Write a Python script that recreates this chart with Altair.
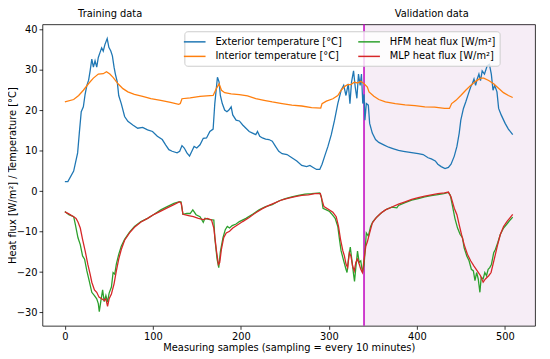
import altair as alt
import pandas as pd

# ---------------- data ----------------
ext_x = [0, 3.4, 10, 14.5, 16.4, 18.6, 21, 23, 25, 27, 28.7, 30.6, 32.4, 34.3, 36.2, 38, 39.9, 41.8, 43.6, 45.5,
         48.1, 50, 52.2, 54, 55.9, 57.4, 59.6, 61.2, 64.1, 67.9, 71.6, 77.2, 82.8, 88.4, 94, 99.6, 105.1, 110.7,
         114.5, 118.2, 121.9, 127.5, 130.5, 133.1, 135.7, 138.7, 141.7, 144.3, 146.9, 149.9, 153.6, 157.3, 161,
         164.8, 168.5, 170.4, 173.4, 175.3, 176.7, 178.9, 181.6, 184.2, 186.4, 189, 190.8, 194.6, 198.3, 202.1,
         205.8, 209.5, 213.3, 217, 218.9, 221.5, 224.5, 228.2, 231.9, 235.7, 239.4, 243.1, 246.9, 252.5, 258,
         263.6, 269.2, 274.8, 278.5, 282.2, 286, 289.7, 292.3, 295.3, 299, 302.8, 306.5, 310.2, 314, 316.9,
         319.5, 322.1, 324, 325.8, 328.1, 330, 331.9, 333.7, 335.6, 337.1, 338.6, 340, 341, 342.6, 344.9, 346.4,
         349.4, 353.1, 356.8, 362.4, 368, 373.6, 379.2, 384.8, 390.4, 396, 401.6, 407.2, 412.8, 416.5, 421,
         423.9, 427.7, 432.1, 435.9, 438.9, 442.6, 445.6, 448.2, 450, 453, 455.6, 458.6, 461.2, 463.1, 465,
         466.8, 468.7, 470.6, 472.4, 474.3, 476.9, 479.9, 482.5, 484.7, 486.6, 488.5, 491.1, 493, 495.9, 500.4,
         504.1, 509]
ext_y = [2.4, 2.4, 5.0, 9.5, 14.4, 19.7, 20.9, 24, 26.2, 27.5, 29.8, 32.7, 30.7, 32.3, 30.7, 33.1, 34.3, 35.5,
         34.7, 36.3, 37.8, 35.6, 34.7, 33.5, 30.7, 29, 27, 23.7, 21.7, 18.5, 17.3, 16.4, 15.6, 15.8, 15.2, 14.8,
         13.6, 12.8, 11.5, 10.3, 9.9, 9.5, 9.9, 11.3, 10.7, 9.5, 8.7, 9.9, 11.1, 10.7, 11.5, 13.1, 13.2, 14.8,
         15.4, 21.7, 28.2, 27, 23.7, 21.7, 20.1, 19.7, 20.1, 20.9, 18.9, 17.6, 17.4, 16.4, 15.6, 14.8, 14.4, 14,
         14.8, 13.6, 13.2, 12.9, 12.8, 12.4, 11.1, 9.9, 9.3, 9.1, 8.3, 7.5, 6.4, 6.1, 6.4, 5.9, 5.4, 5.4, 6.7,
         8.7, 11.1, 14, 17.6, 21.7, 25, 26.2, 23.7, 26.6, 21.7, 27, 29.8, 25.8, 23, 29, 26.2, 29, 21.7, 24,
         17.6, 21.7, 21.3, 16.8, 14.4, 12.8, 12.1, 11.5, 10.9, 10.5, 10.1, 9.9, 9.7, 9.5, 9.3, 9.1, 8.3, 8.0,
         7.5, 6.7, 6.1, 5.6, 5.9, 6.7, 8.7, 11.1, 14.4, 17.6, 20.5, 22.1, 24.1, 25.8, 26.6, 27.8, 26.2, 27.8,
         29, 27.4, 29.8, 29, 31, 31.4, 29, 25, 26.2, 24.6, 20.5, 18.9, 16.8, 15.4, 14]

int_x = [0, 10, 15.7, 21, 26.8, 32.4, 38, 43.6, 47.3, 51.1, 54.8, 60.4, 66, 71.6, 79, 88.4, 97.7, 108.9, 120.1,
         129.4, 131.2, 133.1, 142.4, 153.6, 168.5, 172.2, 175.3, 178, 181.6, 189, 198.3, 207.6, 217, 226.4,
         235.7, 246.9, 258, 269.2, 280.4, 290.8, 292.3, 297.2, 304.6, 310.2, 314, 317.7, 321.4, 325.1, 328.9,
         332.6, 336.3, 340.1, 343.8, 345.7, 351.2, 356.8, 364.3, 375.5, 386.7, 397.9, 409.1, 420.3, 431.5,
         437.1, 439.6, 444.5, 450, 455.6, 461.2, 466.8, 472.4, 476.1, 481.7, 487.3, 492.9, 498.5, 504.1, 509]
int_y = [22.1, 22.7, 23.7, 25, 26.6, 28, 29, 29.1, 29.6, 29, 28.2, 26.6, 25.4, 24.6, 24, 23.5, 22.9, 22.5, 22,
         21.5, 21.7, 22.9, 23.1, 23.5, 23.7, 25.4, 26.6, 25, 24.4, 24.1, 23.9, 23.6, 22.9, 22.5, 22.1, 21.7,
         21.3, 21.1, 20.7, 20.6, 21.7, 22.3, 22.9, 23.7, 25, 25.9, 26.4, 26.4, 27, 26.8, 27.2, 26.6, 25.8, 24.6,
         23.5, 22.7, 22.1, 21.7, 21.4, 21.2, 20.9, 20.8, 20.5, 20.5, 21.7, 22.5, 23.7, 25, 26.2, 27.2, 28, 28,
         27.4, 26.6, 25.5, 24.4, 23.7, 23.2]

hfm_x = [0, 4.5, 10, 12, 14.9, 17.5, 20.1, 22.4, 25, 27.6, 30.6, 33.6, 36.2, 38, 39.1, 41, 42.9, 44.7, 46.6,
         48.5, 50.3, 52.9, 54.8, 56.7, 58.5, 61.2, 64.1, 67.9, 73.5, 79.1, 86.5, 94, 101.5, 109, 116.3, 123.9,
         129.4, 132, 134.2, 138.7, 142.4, 145.4, 149.1, 153.6, 157.3, 159.2, 164.8, 169.3, 170.4, 173, 174.9,
         176.7, 179.7, 182.3, 184.6, 187.2, 190.2, 194.6, 198.3, 205.8, 213.3, 220.7, 228.2, 235.7, 243.1,
         250.6, 258, 265.4, 272.9, 280.4, 289.7, 291.5, 293.4, 297.2, 300.9, 303.9, 307.2, 310.2, 312.1,
         313.9, 316.9, 319.5, 320.7, 322.5, 324.4, 326.3, 328.1, 329.2, 330.7, 332.6, 334.5, 336.3, 338.2,
         340.1, 341.2, 342.6, 344.9, 347.5, 350.1, 354.9, 360.5, 366.1, 371.7, 377.3, 379.2, 386.7, 394.2,
         401.6, 409.1, 416.5, 424, 430.7, 435.9, 438.1, 440.7, 443.3, 446.3, 449.3, 451.9, 453.8, 456.8,
         459.4, 462, 464.3, 466.1, 468, 469.8, 471.7, 473.2, 475.4, 477.3, 479.2, 481.1, 482.9, 484.8, 487.4,
         489.3, 491.9, 494.9, 498.6, 502.4, 506.1, 509]
hfm_y = [-5.0, -5.8, -6.3, -8.3, -11.5, -13.2, -16, -16.8, -19.7, -22.1, -25, -25.8, -26.6, -27.8, -29.8, -27,
         -24.4, -27.3, -25.8, -27.4, -25.2, -23.7, -20.1, -20.5, -18, -15.6, -13.6, -11.9, -10.1, -8.7, -7.5,
         -6.7, -5.7, -4.6, -3.8, -3.0, -2.6, -2.6, -5.7, -5.5, -5.5, -4.6, -5.8, -6.3, -7.7, -6.7, -7.0, -7.1,
         -11.5, -16.8, -18.9, -15, -11.5, -9.5, -8.7, -9.1, -8.5, -8.1, -7.5, -6.7, -5.7, -4.6, -3.8, -3.3,
         -2.4, -1.8, -1.4, -1.0, -0.7, -0.6, -0.4, -1.4, -4.2, -4.6, -5.0, -5.8, -6.7, -8.7, -11.9, -14.7,
         -17.2, -19.3, -20.1, -16.4, -13.8, -17.2, -20.5, -22.3, -18.9, -14.8, -17.6, -17.2, -20.1, -18.1,
         -14.8, -10.3, -11.1, -8.7, -7.5, -6.3, -5.2, -4.4, -3.9, -4.1, -3.5, -2.8, -2.2, -1.8, -1.4, -1.1,
         -0.8, -0.6, -0.3, -1.0, -3.8, -6.7, -9.1, -10.7, -11.5, -14, -16, -17.2, -19.3, -19.7, -22.1, -20.1,
         -21.7, -25, -21.3, -21.7, -20.1, -20.9, -19.3, -18.9, -18.1, -15.2, -14.4, -12.8, -10.7, -9.1, -8.1,
         -7.1, -6.4]

mlp_x = [0, 4.5, 10, 12.7, 14.9, 17.5, 20.1, 23.1, 26.1, 28.7, 30.6, 33.6, 36.2, 38.8, 41.8, 44.7, 46.6, 48.5,
         50.3, 52.9, 55.9, 58.5, 61.2, 64.1, 67.9, 73.5, 79.1, 86.5, 94, 101.5, 109, 116.3, 123.9, 130.5, 132.3,
         134.2, 140.5, 146.1, 151.7, 157.3, 161.8, 166.7, 169.3, 172.3, 174.5, 176, 177.9, 180.5, 183.4, 187.2,
         190.9, 196.5, 202.1, 209.5, 217, 224.5, 231.9, 239.4, 246.9, 254.3, 261.8, 269.2, 276.7, 284.1,
         290.4, 292.3, 294.5, 299, 304.6, 308.4, 311, 313.3, 315.9, 317.7, 319.5, 321.4, 323.3, 325.1, 327,
         328.9, 330.7, 332.6, 334.5, 336.3, 338.2, 340.1, 342, 343.8, 346.4, 349.4, 353.1, 358.7, 364.3,
         371.7, 379.2, 386.7, 394.2, 401.6, 409.1, 416.5, 424, 431.5, 435.9, 438.9, 442.6, 445.6, 448.2,
         450.8, 453.8, 457.5, 461.2, 465, 468.7, 472.4, 475.4, 478, 481.7, 484.4, 486.6, 489.3, 491.9, 494.9,
         498.6, 502.4, 506.1, 509]
mlp_y = [-5.1, -5.6, -6.3, -6.7, -7.6, -9.1, -11.9, -14.8, -18.1, -20.5, -22.5, -24.4, -25, -26.2, -26.6, -27,
         -26.6, -28.5, -26.6, -25.4, -22.9, -19.7, -16.8, -14.4, -12.1, -10.3, -8.9, -7.6, -6.7, -5.7, -4.9,
         -4.1, -3.3, -2.6, -3.0, -5.7, -6.0, -6.3, -6.7, -7.0, -6.7, -7.1, -9.1, -14.8, -18.1, -17.6, -14.4,
         -11.5, -10.3, -9.9, -9.1, -8.3, -7.5, -6.5, -5.3, -4.3, -3.5, -2.8, -2.1, -1.7, -1.3, -1.0, -0.9, -0.6,
         -0.6, -2.2, -3.8, -4.4, -5.2, -6.3, -8.7, -11.9, -14.7, -16, -18, -18.9, -15.2, -16, -18.5, -19.7,
         -17.6, -16.8, -18, -19.3, -20.1, -16.8, -13.6, -12.5, -10.3, -7.9, -6.7, -5.5, -4.6, -3.9, -3.2, -2.6,
         -2.0, -1.6, -1.2, -0.9, -0.6, -0.4, -0.2, -1.4, -4.2, -5.8, -8.3, -10.7, -13.2, -15.6, -17.2, -18.5,
         -19.7, -20.9, -22.5, -21.7, -20.9, -20.1, -18.1, -15.6, -13.2, -10.7, -8.7, -7.5, -6.5, -5.7]

series_names = ["Exterior temperature [°C]", "Interior temperature [°C]",
                "HFM heat flux [W/m²]", "MLP heat flux [W/m²]"]
series_colors = ["#1f77b4", "#ff7f0e", "#2ca02c", "#d62728"]

validation_start = 340
section_labels = ["Training data", "Validation data"]
section_label_x = [51.5, 417]

x_ticks = [0, 100, 200, 300, 400, 500]
y_ticks = [-30, -20, -10, 0, 10, 20, 30, 40]
x_domain = [-25.45, 534.45]
y_domain = [-33.3, 41.3]

# ---------------- chart ----------------
W, H = 500, 306
FONT = "DejaVu Sans"
FS = 10

color_enc = alt.Color(
    "series:N",
    scale=alt.Scale(domain=series_names, range=series_colors),
    legend=alt.Legend(
        orient="none", legendX=144, legendY=7, columns=2, title=None,
        symbolType="M-2,0H2", symbolSize=121, symbolStrokeWidth=1.5,
        labelFont=FONT, labelFontSize=FS, labelColor="black", labelOffset=14.5, labelLimit=0,
        padding=4, rowPadding=3, columnPadding=13,
        strokeColor="#cccccc", fillColor="rgba(255,255,255,0.8)", cornerRadius=3,
    ),
)

xs = alt.Scale(domain=x_domain, nice=False, zero=False)
ys = alt.Scale(domain=y_domain, nice=False, zero=False)
x_axis = alt.Axis(values=x_ticks, title="Measuring samples (sampling = every 10 minutes)",
                  grid=False, titlePadding=1.5)
y_axis = alt.Axis(values=y_ticks, title="Heat flux [W/m²] / Temperature [°C]", grid=False,
                  titleX=-25, titleY=H / 2, titleAngle=270, titleBaseline="bottom", titleAlign="center")
x_enc = alt.X("x:Q", scale=xs, axis=x_axis)
y_enc = alt.Y("y:Q", scale=ys, axis=y_axis)

shade = alt.Chart(pd.DataFrame({"x": [validation_start], "x2": [x_domain[1]]})).mark_rect(
    color="#800080", opacity=0.07
).encode(x=x_enc, x2="x2:Q", y=alt.value(0), y2=alt.value(H))

rule = alt.Chart(pd.DataFrame({"x": [validation_start]})).mark_rule(
    color="#bf00bf", strokeWidth=1.5
).encode(x=x_enc)

def line_layer(xv, yv, name):
    df = pd.DataFrame({"x": xv, "y": yv, "series": name})
    return alt.Chart(df).mark_line(strokeWidth=1.3).encode(x=x_enc, y=y_enc, color=color_enc)

lines = [
    line_layer(ext_x, ext_y, series_names[0]),
    line_layer(int_x, int_y, series_names[1]),
    line_layer(hfm_x, hfm_y, series_names[2]),
    line_layer(mlp_x, mlp_y, series_names[3]),
]

labels = alt.Chart(pd.DataFrame({"x": section_label_x, "label": section_labels})).mark_text(
    font=FONT, fontSize=FS, color="black", align="center", baseline="alphabetic"
).encode(x=x_enc, y=alt.value(-7), text="label:N")

chart = alt.layer(shade, rule, *lines, labels).properties(
    width=W, height=H,
    autosize=alt.AutoSizeParams(type="none"),
    padding={"left": 35, "top": 14, "right": 7, "bottom": 29},
).configure_view(
    stroke="black", strokeWidth=0.8
).configure_axis(
    domain=False, tickColor="black", tickSize=3.5, tickWidth=0.8, labelPadding=2,
    labelFont=FONT, labelFontSize=FS, labelColor="black",
    titleFont=FONT, titleFontSize=FS, titleColor="black", titleFontWeight="normal",
)

chart.save("out.html", embed_options={"renderer": "svg", "actions": False})
